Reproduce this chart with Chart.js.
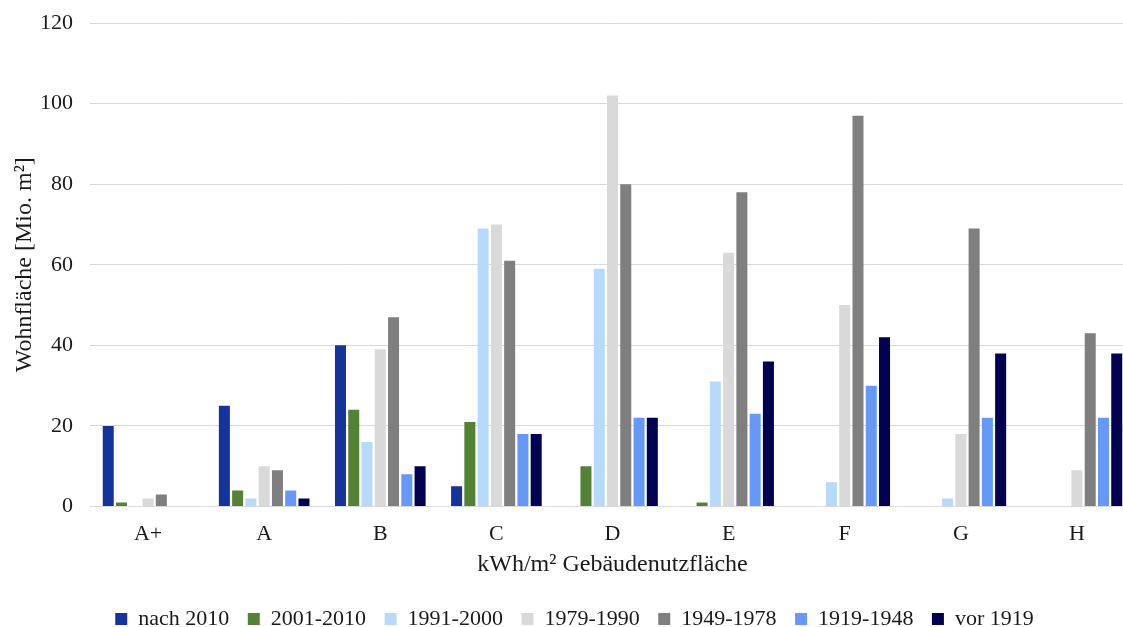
<!DOCTYPE html>
<html>
<head>
<meta charset="utf-8">
<script src="https://cdn.jsdelivr.net/npm/chart.js@4"></script>
<style>
  html, body { margin: 0; padding: 0; overflow: hidden; background: #fff; }
  #wrap { width: 1138px; height: 640px; }
</style>
</head>
<body>
<div id="wrap"><canvas id="energyChart"></canvas></div>
<script>
var classes = ["A+", "A", "B", "C", "D", "E", "F", "G", "H"];
var periods = ["nach 2010", "2001-2010", "1991-2000", "1979-1990", "1949-1978", "1919-1948", "vor 1919"];

var nach2010 = [20, 25, 40, 5, 0, 0, 0, 0, 0];
var p2001 = [1, 4, 24, 21, 10, 1, 0, 0, 0];
var p1991 = [0, 2, 16, 69, 59, 31, 6, 2, 0];
var p1979 = [2, 10, 39, 70, 102, 63, 50, 18, 9];
var p1949 = [3, 9, 47, 61, 80, 78, 97, 69, 43];
var p1919 = [0, 4, 8, 18, 22, 23, 30, 22, 22];
var vor1919 = [0, 2, 10, 18, 22, 36, 42, 38, 38];

var yTicks = [0, 20, 40, 60, 80, 100, 120];

var colors = ["#14349c", "#548235", "#b7d9fb", "#d9d9d9", "#7f7f7f", "#6699f7", "#020050"];
var series = [nach2010, p2001, p1991, p1979, p1949, p1919, vor1919];

var serif = "'Liberation Serif', 'Times New Roman', serif";
var font = { family: serif, size: 22 };
var titleFont = { family: serif, size: 24 };
var textColor = "#1a1a1a";

new Chart("energyChart", {
    type: "bar",
    data: {
        labels: classes,
        datasets: series.map(function (vals, i) {
            return {
                label: periods[i],
                data: vals,
                backgroundColor: colors[i],
                borderWidth: 0,
                categoryPercentage: 0.8,
                barPercentage: 0.83
            };
        })
    },
    options: {
        responsive: true,
        maintainAspectRatio: false,
        animation: false,
        layout: {
            padding: { top: 23, right: 3, left: 14, bottom: 0 }
        },
        plugins: {
            legend: {
                position: "bottom",
                labels: {
                    font: font,
                    color: textColor,
                    boxWidth: 12,
                    boxHeight: 12,
                    padding: 18.5
                }
            },
            tooltip: { enabled: false }
        },
        scales: {
            x: {
                grid: { display: false, drawTicks: false },
                border: { display: false },
                ticks: { font: font, color: textColor, padding: 15 },
                title: {
                    display: true,
                    text: "kWh/m² Gebäudenutzfläche",
                    font: titleFont,
                    color: textColor,
                    padding: { top: 0, bottom: 10.5 }
                },
                afterFit: function (axis) { axis.height = 83; }
            },
            y: {
                min: 0,
                max: 120,
                afterBuildTicks: function (axis) {
                    axis.ticks = yTicks.map(function (v) { return { value: v }; });
                },
                grid: { color: "#d9d9d9", lineWidth: 1, drawTicks: false },
                border: { display: false },
                ticks: { font: font, color: textColor, padding: 17 },
                title: {
                    display: true,
                    text: "Wohnfläche [Mio. m²]",
                    font: titleFont,
                    color: textColor,
                    padding: { top: -4, bottom: 0 }
                },
                afterFit: function (axis) {
                    axis.width = 76;
                    axis.paddingTop = 0;
                    axis.paddingBottom = 0;
                }
            }
        }
    }
});
</script>
</body>
</html>
